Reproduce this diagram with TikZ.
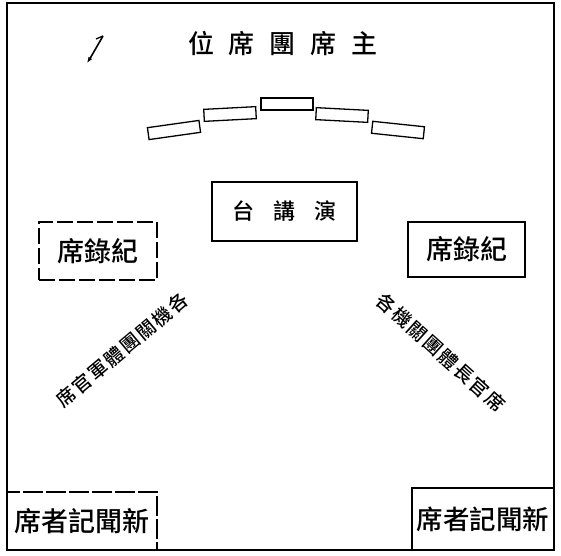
\documentclass[tikz,border=0pt]{standalone}
\usepackage{fontspec}
\newfontfamily\cjk{Noto Sans CJK TC}[UprightFont={* Medium}]
\usetikzlibrary{arrows.meta}
\newcommand{\tgap}{\hspace{15pt}}

\begin{document}
\begin{tikzpicture}[x=1pt,y=-1pt,
	seat/.style={draw, line width=1.3pt, minimum width=52pt, minimum height=12pt, inner sep=0pt},
	deskbox/.style={draw, line width=1.5pt, inner sep=0pt, font=\cjk\fontsize{27}{27}\selectfont},
	slant/.style={inner sep=0pt, font=\cjk\fontsize{19}{19}\selectfont\addfontfeature{LetterSpace=10}}]
	\useasboundingbox (0,0) rectangle (561,555);

	% frame
	\draw [line width = 2.2pt] (7,3) rectangle (554,550);

	% pen mark
	\draw [line width = 1.3pt] (96,39) -- (103,36);
	\draw [-{Latex[length=6pt]}, line width = 1.6pt] (103,36) .. controls (97,48) .. (87,63);

	\node [font=\cjk\fontsize{26}{26}\selectfont] (title) at (283,44) {位\tgap 席\tgap 團\tgap 席\tgap 主};

	% seats of the presidium
	\foreach \x/\y/\a [count=\i] in {174/130/8, 230/114/3, 287/104/0, 342/115/-3, 398/130/-6}
		\node [seat, rotate=\a] (seat\i) at (\x,\y) {};

	\node [deskbox, line width=2pt, minimum width=145pt, minimum height=59pt,
		font=\cjk\fontsize{22}{22}\selectfont] (podium) at (284.5,211.5) {台\hspace{19pt}講\hspace{19pt}演};

	\node [deskbox, dash pattern=on 16pt off 4pt, minimum width=118pt, minimum height=58pt] (recleft) at (98,251) {席錄紀};
	\node [deskbox, minimum width=117pt, minimum height=55pt] (recright) at (466.5,249.5) {席錄紀};

	\node [slant, rotate=40] (guestleft) at (122,350) {席官軍體團關機各};
	\node [slant, rotate=-42] (guestright) at (441,352) {各機關團體長官席};

	\node [deskbox, dash pattern=on 20pt off 3pt, minimum width=150pt, minimum height=58pt] (pressleft) at (82,521) {席者記聞新};
	\node [deskbox, minimum width=142pt, minimum height=62pt, font=\cjk\fontsize{26.5}{26.5}\selectfont] (pressright) at (483,519) {席者記聞新};

\end{tikzpicture}
\end{document}
